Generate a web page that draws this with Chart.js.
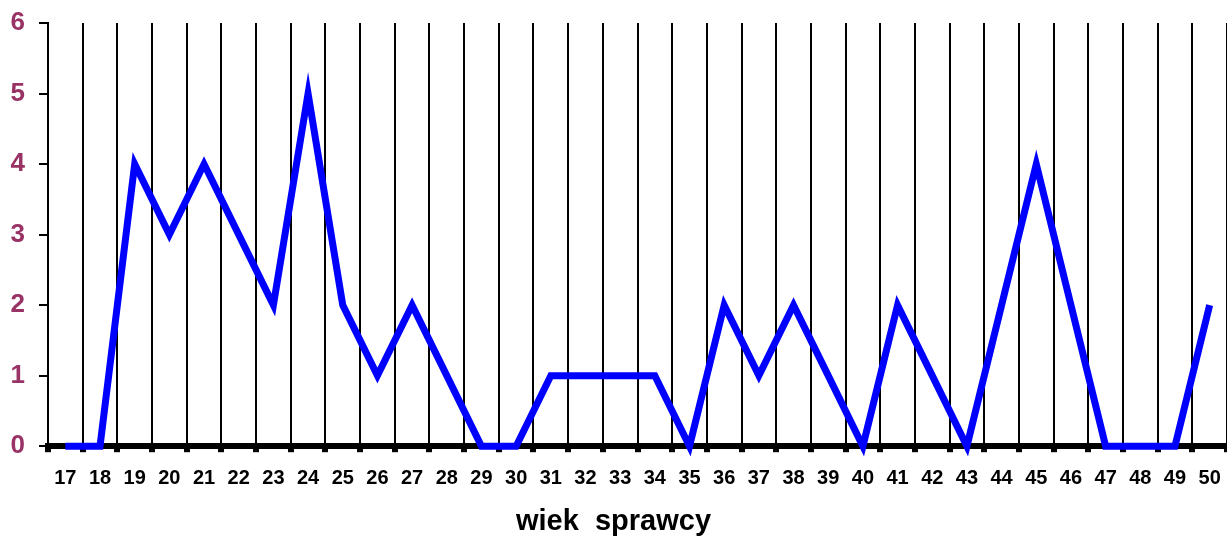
<!DOCTYPE html>
<html>
<head>
<meta charset="utf-8">
<script src="https://cdn.jsdelivr.net/npm/chart.js@4/dist/chart.umd.min.js"></script>
<style>
  body { margin: 0; background: #fff; }
  #wrap { width: 1227px; height: 539px; }
</style>
</head>
<body>
<div id="wrap"><canvas id="wiekChart"></canvas></div>
<script>
// dane z wykresu
const ages = ["17","18","19","20","21","22","23","24","25","26","27","28","29","30","31","32","33",
              "34","35","36","37","38","39","40","41","42","43","44","45","46","47","48","49","50"];
const counts = [0,0,4,3,4,3,2,5,2,1,2,1,0,0,1,1,1,1,0,2,1,2,1,0,2,1,0,2,4,2,0,0,0,2];
const yTicks = [0,1,2,3,4,5,6];

Chart.defaults.font.family = "'Liberation Sans', Arial, sans-serif";
Chart.defaults.font.weight = "bold";

const canvas = document.getElementById("wiekChart");
new Chart(canvas, {
  type: "line",
  data: {
    labels: ages,
    datasets: [{
      data: counts,
      borderColor: "#0000ff",
      borderWidth: 7,
      pointRadius: 0,
      tension: 0,
      borderJoinStyle: "miter",
      clip: false
    }]
  },
  options: {
    responsive: true,
    maintainAspectRatio: false,
    animation: false,
    layout: { padding: { top: 23, right: 0, left: 0, bottom: 0 } },
    plugins: {
      legend: { display: false },
      tooltip: { enabled: false },
      title: {
        display: true,
        position: "bottom",
        text: "wiek  sprawcy",
        color: "#000",
        font: { size: 29, weight: "bold" },
        padding: { top: 0, bottom: 0 }
      }
    },
    scales: {
      x: {
        offset: true,
        grid: {
          offset: true,
          color: "#000",
          lineWidth: 2,
          tickLength: 6,
          tickWidth: 6
        },
        border: { color: "#000", width: 6 },
        ticks: {
          color: "#000",
          font: { size: 20, weight: "bold" },
          maxRotation: 0,
          autoSkip: false,
          padding: 14
        },
        afterFit: function (s) {
          s.height = 58;
          s.paddingLeft = 0;
          s.paddingRight = 0;
        }
      },
      y: {
        min: 0,
        max: 6,
        afterBuildTicks: function (s) { s.ticks = yTicks.map(v => ({ value: v })); },
        grid: {
          drawOnChartArea: false,
          color: "#000",
          lineWidth: 2,
          tickLength: 9
        },
        border: { color: "#000", width: 2 },
        ticks: {
          color: "#993366",
          font: { size: 26, weight: "bold" },
          padding: 14
        },
        afterFit: function (s) {
          s.width = 48;
          s.paddingTop = 0;
          s.paddingBottom = 0;
        }
      }
    }
  }
});
</script>
</body>
</html>
